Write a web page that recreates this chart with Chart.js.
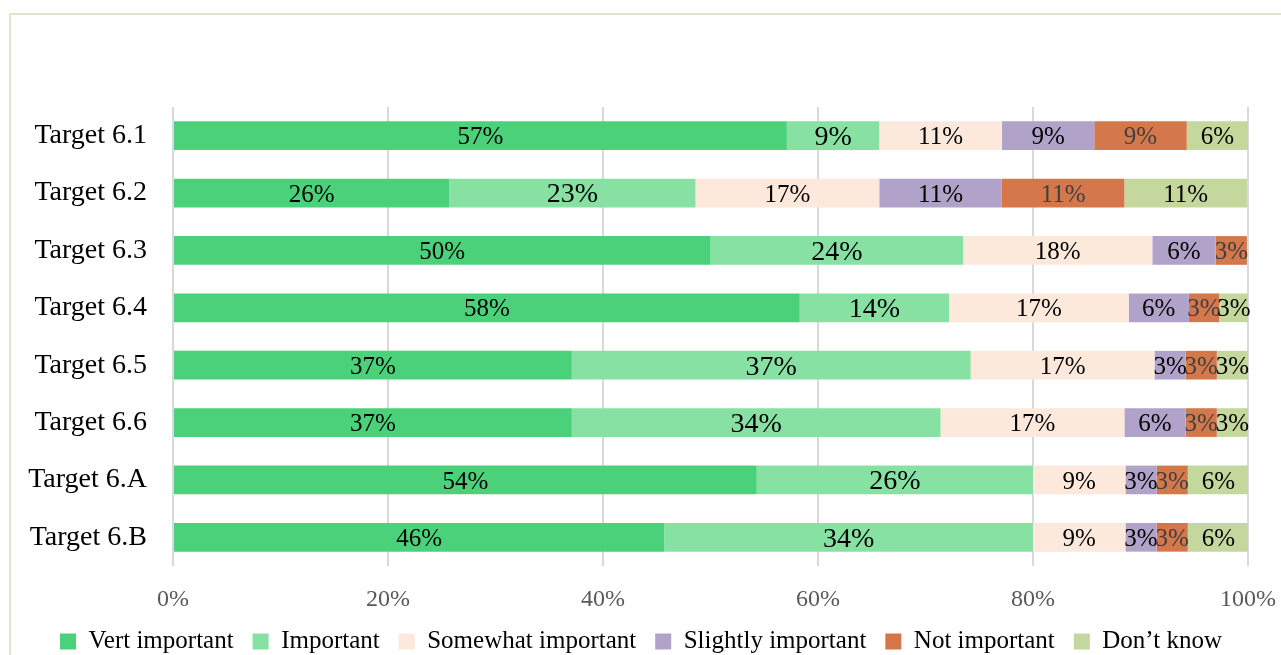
<!DOCTYPE html>
<html>
<head>
<meta charset="utf-8">
<script src="https://cdn.jsdelivr.net/npm/chart.js@4/dist/chart.umd.min.js"></script>
<style>
  html, body { margin: 0; padding: 0; background: #fff; overflow: hidden; }
  #frame {
    position: absolute; left: 9px; top: 13px; width: 1400px; height: 800px;
    border-top: 2px solid #dfe6cc; border-left: 2px solid #dfe6cc;
  }
  #wrap { position: absolute; left: 0; top: 0; width: 1281px; height: 655px; }
</style>
</head>
<body>
<div id="frame"></div>
<div id="wrap"><canvas id="myChart"></canvas></div>
<script>
const targets = ['Target 6.1', 'Target 6.2', 'Target 6.3', 'Target 6.4', 'Target 6.5', 'Target 6.6', 'Target 6.A', 'Target 6.B']

// share of respondents per answer, in %
const veryImportant     = [57.1, 25.7, 50.0, 58.3, 37.1, 37.1, 54.3, 45.7]
const important         = [8.6, 22.9, 23.5, 13.9, 37.1, 34.3, 25.7, 34.3]
const somewhatImportant = [11.4, 17.1, 17.6, 16.7, 17.1, 17.1, 8.6, 8.6]
const slightlyImportant = [8.6, 11.4, 5.9, 5.6, 2.9, 5.7, 2.9, 2.9]
const notImportant      = [8.6, 11.4, 2.9, 2.8, 2.9, 2.9, 2.9, 2.9]
const dontKnow          = [5.7, 11.4, 0, 2.8, 2.9, 2.9, 5.7, 5.7]

const xTicks = [0, 20, 40, 60, 80, 100]

const serif = "'Liberation Serif', serif"

const series = [
    { label: 'Vert important', data: veryImportant, color: '#4bd17a', text: '#000', size: 25 },
    { label: 'Important', data: important, color: '#87e1a3', text: '#000', size: 28 },
    { label: 'Somewhat important', data: somewhatImportant, color: '#fde9dc', text: '#000', size: 25 },
    { label: 'Slightly important', data: slightlyImportant, color: '#b1a2c9', text: '#000', size: 25 },
    { label: 'Not important', data: notImportant, color: '#d4774a', text: '#404040', size: 25 },
    { label: 'Don\u2019t know', data: dontKnow, color: '#c4d79d', text: '#000', size: 25 },
]

// writes the rounded percentage in the middle of each segment
const segmentLabels = {
    id: 'segmentLabels',
    afterDatasetsDraw(chart) {
        const ctx = chart.ctx
        chart.data.datasets.forEach((ds, i) => {
            const meta = chart.getDatasetMeta(i)
            meta.data.forEach((bar, j) => {
                const v = ds.data[j]
                if (!v) return
                const left = Math.min(bar.x, bar.base)
                const right = Math.max(bar.x, bar.base)
                ctx.save()
                ctx.font = `${ds.labelSize}px ${serif}`
                ctx.fillStyle = ds.labelColor
                ctx.textAlign = 'center'
                ctx.textBaseline = 'middle'
                ctx.fillText(Math.round(v) + '%', (left + right) / 2, bar.y + 2)
                ctx.restore()
            })
        })
    }
}

const ctx = document.getElementById('myChart')

new Chart(ctx, {
    type: 'bar',
    data: {
        labels: targets,
        datasets: series.map(s => ({
            label: s.label,
            data: s.data,
            backgroundColor: s.color,
            borderWidth: 0,
            barPercentage: 0.5,
            categoryPercentage: 1,
            labelColor: s.text,
            labelSize: s.size,
        }))
    },
    options: {
        indexAxis: 'y',
        responsive: true,
        maintainAspectRatio: false,
        animation: false,
        layout: { padding: { top: 107, right: 19, left: 20, bottom: -9 } },
        scales: {
            x: {
                stacked: true,
                min: 0,
                max: 100,
                afterBuildTicks: axis => { axis.ticks = xTicks.map(v => ({ value: v })) },
                grid: { color: '#d9d9d9', lineWidth: 2, drawTicks: false },
                border: { display: false },
                ticks: {
                    padding: 19,
                    color: '#595959',
                    font: { family: serif, size: 24 },
                    callback: v => v + '%'
                },
                afterFit: axis => {
                    axis.height = 44
                    axis.paddingLeft = 0
                    axis.paddingRight = 33
                }
            },
            y: {
                stacked: true,
                grid: { display: false, drawTicks: false },
                border: { display: false },
                ticks: {
                    padding: 26,
                    color: '#000',
                    font: { family: serif, size: 28 }
                },
                afterFit: axis => { axis.width = 153 }
            }
        },
        plugins: {
            legend: {
                position: 'bottom',
                labels: {
                    boxWidth: 16,
                    boxHeight: 16,
                    padding: 19,
                    color: '#000',
                    font: { family: serif, size: 25 }
                }
            },
            tooltip: { enabled: false }
        }
    },
    plugins: [segmentLabels]
})
</script>
</body>
</html>
